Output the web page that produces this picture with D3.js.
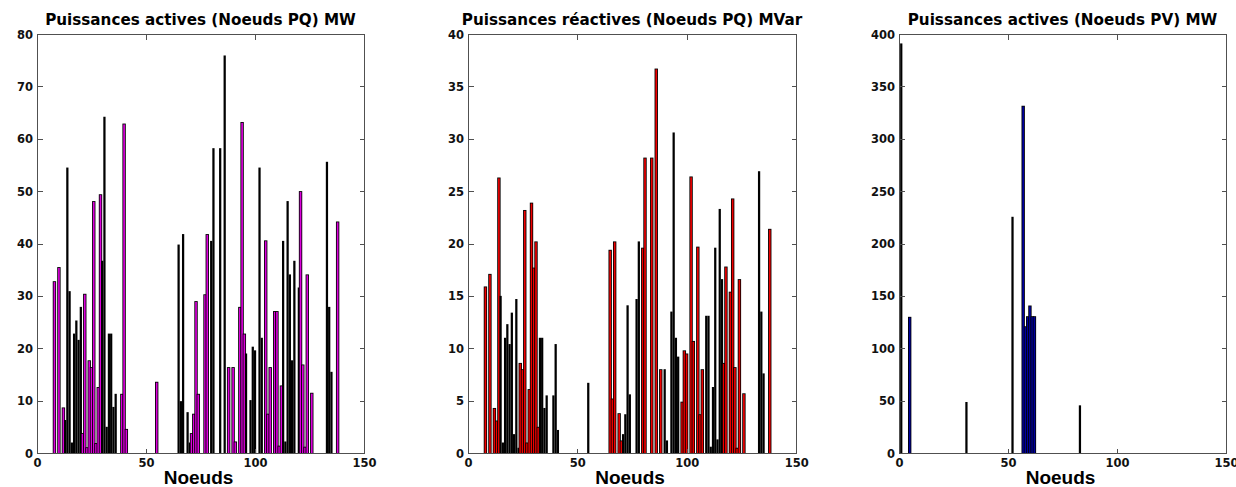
<!DOCTYPE html>
<html>
<head>
<meta charset="utf-8">
<script src="https://cdn.jsdelivr.net/npm/d3@7"></script>
<style>
  html, body { margin: 0; padding: 0; background: #fff; }
  svg { display: block; }
</style>
</head>
<body>
<svg id="chart" width="1236" height="487"></svg>
<script>
// PQ bus numbers and their loads
const pqNodes = [8, 10, 12, 13, 14, 15, 16, 17, 18, 19, 20, 21, 22, 23, 24, 25, 26, 27, 28, 29,
  30, 31, 32, 33, 34, 35, 36, 39, 40, 41, 55, 65, 66, 67, 69, 70, 71, 72, 73, 74,
  77, 78, 80, 81, 84, 86, 88, 90, 91, 93, 94, 95, 96, 98, 99, 100, 102, 103, 105, 106,
  107, 109, 110, 111, 112, 113, 114, 115, 116, 117, 118, 120, 121, 122, 123, 124, 126, 133, 134, 135,
  138];

const pqActiveMW = [32.8, 35.5, 8.7, 6.3, 54.5, 30.9, 2.0, 22.8, 25.3, 21.6, 27.9, 3.8, 30.4, 1.1, 17.7, 16.4, 48.1, 1.9, 12.6, 49.4,
  36.7, 64.2, 5.0, 22.8, 22.8, 8.8, 11.3, 11.3, 62.9, 4.6, 13.6, 39.8, 9.9, 41.8, 7.8, 2.0, 3.8, 7.5, 29.0, 11.3,
  30.3, 41.8, 40.5, 58.2, 58.2, 75.9, 16.4, 16.4, 2.2, 27.9, 63.2, 22.8, 19.0, 10.1, 20.3, 19.6, 54.5, 22.0, 40.6, 7.5,
  16.4, 27.1, 27.1, 1.4, 12.9, 40.5, 2.2, 48.1, 34.1, 17.7, 36.7, 31.6, 50.0, 16.9, 1.2, 34.1, 11.5, 55.6, 27.9, 15.5,
  44.2];

const pqReactiveMVar = [15.9, 17.1, 4.3, 3.1, 26.3, 15.0, 1.0, 11.0, 12.3, 10.4, 13.4, 1.8, 14.7, 0.5, 8.6, 8.0, 23.2, 1.0, 6.1, 23.9,
  17.7, 20.2, 2.5, 11.0, 11.0, 4.3, 5.5, 5.5, 10.4, 2.2, 6.7, 19.4, 5.2, 20.2, 3.8, 1.2, 1.8, 3.7, 14.1, 5.6,
  14.7, 20.2, 19.6, 28.2, 28.2, 36.7, 8.0, 8.0, 1.2, 13.5, 30.6, 11.0, 9.2, 4.9, 9.8, 9.5, 26.4, 10.7, 19.7, 3.7,
  8.0, 13.1, 13.1, 0.6, 6.3, 19.6, 1.3, 23.3, 16.6, 8.6, 17.8, 15.4, 24.3, 8.2, 0.5, 16.6, 5.7, 26.9, 13.5, 7.6,
  21.4];

// PV bus numbers and their generation
const pvNodes = [1, 5, 31, 52, 57, 58, 59, 60, 61, 62, 83];
const pvActiveMW = [391, 130, 48.7, 225.5, 331.5, 121, 130.6, 140.8, 130.6, 130.6, 45.5];

// Tick values
const xTickValues = [0, 50, 100, 150];
const yTicksActivePQ = [0, 10, 20, 30, 40, 50, 60, 70, 80];
const yTicksReactivePQ = [0, 5, 10, 15, 20, 25, 30, 35, 40];
const yTicksActivePV = [0, 50, 100, 150, 200, 250, 300, 350, 400];

// Text
const titles = [
  "Puissances actives (Noeuds PQ) MW",
  "Puissances réactives (Noeuds PQ) MVar",
  "Puissances actives (Noeuds PV) MW"
];
const xAxisTitle = "Noeuds";

const svg = d3.select("#chart");

const panels = [
  { title: titles[0], nodes: pqNodes, values: pqActiveMW, yTicks: yTicksActivePQ, fill: "#dd00dd", left: 37, right: 364 },
  { title: titles[1], nodes: pqNodes, values: pqReactiveMVar, yTicks: yTicksReactivePQ, fill: "#f00000", left: 468, right: 796.14 },
  { title: titles[2], nodes: pvNodes, values: pvActiveMW, yTicks: yTicksActivePV, fill: "#0000a0", left: 899, right: 1226 }
];

const plotTop = 34, plotBottom = 453;
const tickLen = 5;
const axisColor = "#505050";
const tickFont = "'DejaVu Sans', Verdana, sans-serif";

// Bars are laid out on a coarse raster (cell = rasterPitch px) with a thin
// black outline; bars that snap to two cells keep no room for their fill.
const rasterPitch = 1.12383;
const rasterOffset = -0.005;
const barCells = 2.52;
const edge = 0.85;

panels.forEach(p => {
  const g = svg.append("g");
  const x = d3.scaleLinear().domain([0, 150]).range([p.left, p.right]);
  const y = d3.scaleLinear().domain([0, d3.max(p.yTicks)]).range([plotBottom, plotTop]);

  const toCell = v => (x(v) - x(0)) / rasterPitch + rasterOffset;
  const fromCell = c => x(0) + (c - rasterOffset) * rasterPitch;

  const bg = g.append("g");
  p.nodes.forEach((n, i) => {
    const a = toCell(n) - barCells / 2;
    const c0 = Math.round(a);
    const c1 = Math.round(a + barCells);
    const L = fromCell(c0), R = fromCell(c1);
    const T = y(p.values[i]);
    bg.append("rect")
      .attr("x", L).attr("y", T)
      .attr("width", R - L).attr("height", plotBottom - T)
      .attr("fill", "#000");
    if (c1 - c0 >= 3 && plotBottom - T > 2 * edge) {
      bg.append("rect")
        .attr("x", L + edge).attr("y", T + edge)
        .attr("width", R - L - 2 * edge).attr("height", plotBottom - T - edge)
        .attr("fill", p.fill);
    }
  });

  // axes box
  const xl = Math.round(p.left) + 0.5, xr = Math.round(p.right) + 0.5;
  const ax = g.append("g").attr("shape-rendering", "crispEdges")
    .attr("stroke", axisColor).attr("stroke-width", 1).attr("fill", "none");
  ax.append("rect")
    .attr("x", xl).attr("y", plotTop + 0.5)
    .attr("width", xr - xl).attr("height", plotBottom - plotTop);

  // inward ticks on all four sides
  xTickValues.forEach(t => {
    const px = Math.round(x(t)) + 0.5;
    ax.append("line").attr("x1", px).attr("x2", px).attr("y1", plotBottom + 0.5).attr("y2", plotBottom + 0.5 - tickLen);
    ax.append("line").attr("x1", px).attr("x2", px).attr("y1", plotTop + 0.5).attr("y2", plotTop + 0.5 + tickLen);
  });
  p.yTicks.forEach(t => {
    const py = Math.round(y(t)) + 0.5;
    ax.append("line").attr("x1", xl).attr("x2", xl + tickLen).attr("y1", py).attr("y2", py);
    ax.append("line").attr("x1", xr).attr("x2", xr - tickLen).attr("y1", py).attr("y2", py);
  });

  // tick labels
  g.append("g").selectAll("text").data(xTickValues).join("text")
    .attr("x", d => x(d) + 0.5)
    .attr("y", plotBottom + 14)
    .attr("text-anchor", "middle")
    .attr("font-family", tickFont).attr("font-weight", "bold").attr("font-size", "11.5px")
    .attr("fill", "#111")
    .text(d => d);

  g.append("g").selectAll("text").data(p.yTicks).join("text")
    .attr("x", p.left - 4)
    .attr("y", d => y(d) + 4.5)
    .attr("text-anchor", "end")
    .attr("font-family", tickFont).attr("font-weight", "bold").attr("font-size", "11.5px")
    .attr("fill", "#111")
    .text(d => d);

  // title
  g.append("text")
    .attr("x", (p.left + p.right) / 2)
    .attr("y", 25)
    .attr("text-anchor", "middle")
    .attr("font-family", tickFont).attr("font-weight", "bold").attr("font-size", "15.2px")
    .attr("fill", "#000")
    .text(p.title);

  // x axis title
  g.append("text")
    .attr("x", (p.left + p.right) / 2 - 2)
    .attr("y", 484)
    .attr("text-anchor", "middle")
    .attr("font-family", "'Liberation Sans', Arial, sans-serif").attr("font-weight", "bold").attr("font-size", "19px")
    .attr("fill", "#000")
    .text(xAxisTitle);
});
</script>
</body>
</html>
